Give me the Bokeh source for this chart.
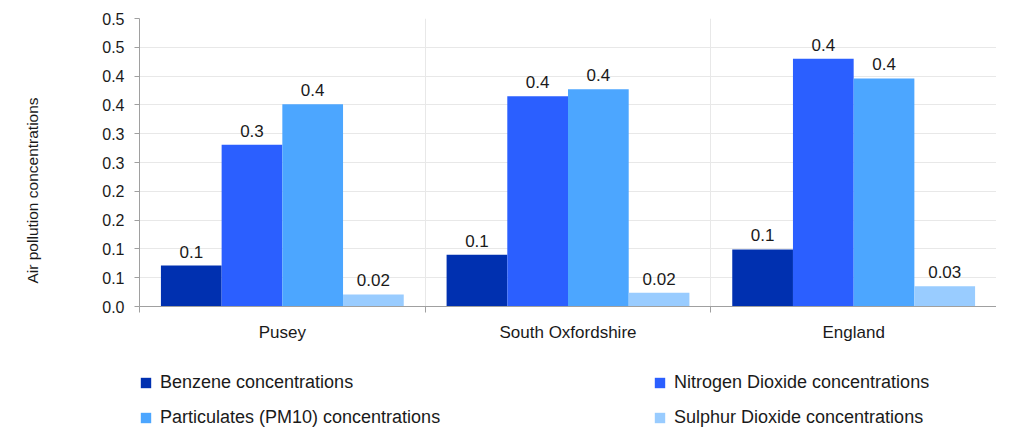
from bokeh.plotting import figure
from bokeh.models import (ColumnDataSource, Range1d, FixedTicker, Legend, LegendItem, Title,
                          LinearAxis)
from bokeh.layouts import column
from bokeh.transform import dodge
from bokeh.core.properties import value
from bokeh.embed import file_html
from bokeh.resources import INLINE

# ---- data ----
categories = ["Pusey", "South Oxfordshire", "England"]
series_names = ["Benzene concentrations", "Nitrogen Dioxide concentrations",
                "Particulates (PM10) concentrations", "Sulphur Dioxide concentrations"]
benzene = [0.071, 0.090, 0.099]
nitrogen_dioxide = [0.281, 0.365, 0.430]
pm10 = [0.351, 0.377, 0.396]
sulphur_dioxide = [0.021, 0.024, 0.035]
benzene_labels = ["0.1", "0.1", "0.1"]
nitrogen_dioxide_labels = ["0.3", "0.4", "0.4"]
pm10_labels = ["0.4", "0.4", "0.4"]
sulphur_dioxide_labels = ["0.02", "0.02", "0.03"]
y_ticks = [0.0, 0.05, 0.1, 0.15, 0.2, 0.25, 0.3, 0.35, 0.4, 0.45, 0.5]
y_tick_labels = ["0.0", "0.1", "0.1", "0.2", "0.2", "0.3", "0.3", "0.4", "0.4", "0.5", "0.5"]
y_axis_title = "Air pollution concentrations"
colors = ["#0030b0", "#2b5fff", "#4ca6ff", "#99ccff"]

FONT = "Liberation Sans"
TXT = "#1a1a1a"
AXIS_COL = "#a0a0a0"
GRID_COL = "#e8e8e8"

n = len(categories)
x_centers = [i + 0.5 for i in range(n)]

p = figure(width=996, height=360, x_range=Range1d(0, n), y_range=Range1d(0, 0.5),
           output_backend="svg", toolbar_location=None,
           min_border_left=139, min_border_right=0, min_border_top=18, min_border_bottom=54)
p.outline_line_color = None

bar_w = 0.2125
values = [benzene, nitrogen_dioxide, pm10, sulphur_dioxide]
labels = [benzene_labels, nitrogen_dioxide_labels, pm10_labels, sulphur_dioxide_labels]
for j, (vals, labs, col) in enumerate(zip(values, labels, colors)):
    src = ColumnDataSource(dict(x=x_centers, top=vals, lab=labs))
    off = (j - 1.5) * bar_w
    p.vbar(x=dodge("x", off, range=p.x_range), top="top", width=bar_w, source=src,
           fill_color=col, line_color=None)
    p.text(x=dodge("x", off, range=p.x_range), y="top", text="lab", source=src,
           text_align="center", text_baseline="alphabetic", y_offset=-14,
           text_font=value(FONT), text_font_size="17px", text_color=TXT)

# y axis
p.yaxis.ticker = FixedTicker(ticks=y_ticks)
p.yaxis.major_label_overrides = {t: l for t, l in zip(y_ticks, y_tick_labels)}
p.yaxis.major_label_text_font = FONT
p.yaxis.major_label_text_font_size = "16px"
p.yaxis.major_label_text_color = TXT
p.yaxis.major_label_standoff = 10
p.yaxis.major_tick_out = 5
p.yaxis.major_tick_in = 0
p.yaxis.minor_tick_line_color = None
p.yaxis.axis_line_color = AXIS_COL
p.yaxis.major_tick_line_color = AXIS_COL

# blank spacer axis (one white tick, empty label), then the y-axis title below centre
spacer = LinearAxis(ticker=FixedTicker(ticks=[y_ticks[0]]), axis_line_color=None,
                    major_tick_line_color="#ffffff", minor_tick_line_color=None,
                    major_tick_out=57, major_tick_in=0, minor_tick_out=0,
                    major_label_standoff=0, major_label_overrides={y_ticks[0]: ""},
                    major_label_text_font_size="1px")
p.add_layout(spacer, "left")
p.add_layout(Title(text=y_axis_title, align="left", offset=23, standoff=4,
                   vertical_align="bottom",
                   text_font=FONT, text_font_size="15.5px", text_font_style="normal",
                   text_color=TXT), "left")

# x axis
p.xaxis.ticker = FixedTicker(ticks=x_centers, minor_ticks=list(range(n + 1)))
p.xaxis.major_label_overrides = {x: c for x, c in zip(x_centers, categories)}
p.xaxis.major_label_text_font = FONT
p.xaxis.major_label_text_font_size = "17px"
p.xaxis.major_label_text_color = TXT
p.xaxis.major_label_standoff = 10
p.xaxis.major_tick_line_color = None
p.xaxis.minor_tick_out = 6
p.xaxis.minor_tick_in = 0
p.xaxis.minor_tick_line_color = AXIS_COL
p.xaxis.axis_line_color = AXIS_COL

# grids
p.ygrid.grid_line_color = GRID_COL
p.xgrid.grid_line_color = None
p.xgrid.minor_grid_line_color = GRID_COL

# ---- legend panel ----
lp = figure(width=996, height=69, x_range=Range1d(0, 1), y_range=Range1d(0, 1),
            output_backend="svg", toolbar_location=None,
            x_axis_location=None, y_axis_location=None, min_border=0)
lp.outline_line_color = None
lp.grid.visible = False
swatches = [lp.vbar(x=[0.5], top=[0.0], bottom=[0.0], width=0.0, fill_color=c, line_color=None)
            for c in colors]

def make_legend(idx, loc):
    return Legend(items=[LegendItem(label=series_names[i], renderers=[swatches[i]]) for i in idx],
                  location=loc, orientation="vertical",
                  glyph_width=13, glyph_height=13, label_height=18, spacing=14,
                  label_standoff=8, padding=0, margin=0,
                  border_line_color=None, background_fill_alpha=0,
                  label_text_font=FONT, label_text_font_size="18px", label_text_color=TXT)

lp.add_layout(make_legend([0, 2], (0, 1)))
lp.add_layout(make_legend([1, 3], (514, 1)))

layout = column(p, lp, spacing=0)
open("out.html", "w").write(file_html(layout, INLINE))
